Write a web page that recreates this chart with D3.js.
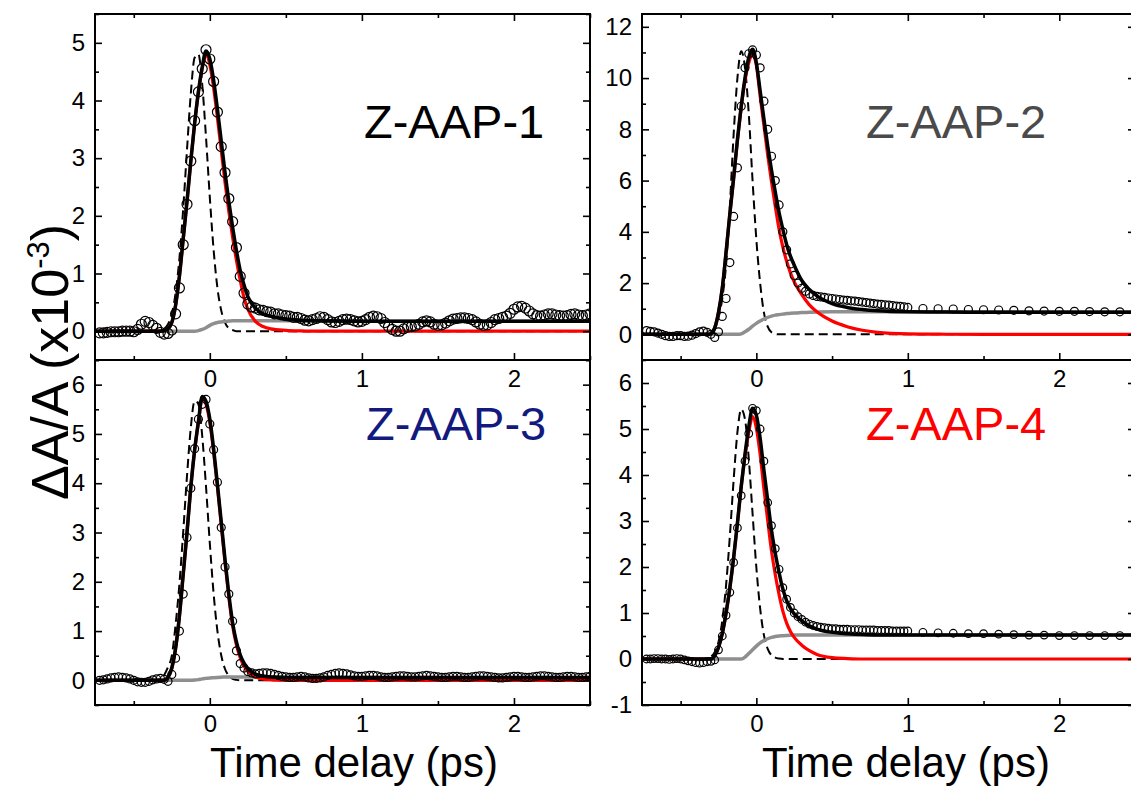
<!DOCTYPE html>
<html><head><meta charset="utf-8">
<script src="https://cdn.jsdelivr.net/npm/d3@7"></script>
<style>
html,body{margin:0;padding:0;background:#fff;}
svg{display:block;font-family:"Liberation Sans",Arial,sans-serif;}
</style></head><body>
<svg id="chart" width="1131" height="787"></svg>
<script>
// ---------- shared time axes (ps) ----------
const TIME_MAIN = [-0.725,-0.7,-0.675,-0.65,-0.625,-0.6,-0.575,-0.55,-0.525,-0.5,
 -0.475,-0.45,-0.425,-0.4,-0.375,-0.35,-0.325,-0.3,-0.275,-0.25,
 -0.225,-0.2,-0.175,-0.15,-0.125,-0.1,-0.075,-0.05,-0.025,0,
 0.025,0.05,0.075,0.1,0.125,0.15,0.175,0.2,0.225,0.25,
 0.275,0.3,0.325,0.35,0.375,0.4,0.425,0.45,0.475,0.5,
 0.525,0.55,0.575,0.6,0.625,0.65,0.675,0.7,0.725,0.75,
 0.775,0.8,0.825,0.85,0.875,0.9,0.925,0.95,0.975,1.0];
const TIME_TAIL_DENSE = [1.025,1.05,1.075,1.1,1.125,1.15,1.175,1.2,1.225,1.25,
 1.275,1.3,1.325,1.35,1.375,1.4,1.425,1.45,1.475,1.5,
 1.525,1.55,1.575,1.6,1.625,1.65,1.675,1.7,1.725,1.75,
 1.775,1.8,1.825,1.85,1.875,1.9,1.925,1.95,1.975,2.0,
 2.025,2.05,2.075,2.1,2.125,2.15,2.175,2.2,2.225,2.25,
 2.275,2.3,2.325,2.35,2.375,2.4,2.425,2.45,2.475,2.5];
const TIME_TAIL_SPARSE = [1.1,1.2,1.3,1.4,1.5,1.6,1.7,1.8,1.9,2.0,2.1,2.2,2.3,2.4,2.5];
const FIT_TIME = [-0.755,-0.5,-0.4,-0.35,-0.325,-0.3,-0.275,-0.25,-0.225,-0.2,
 -0.175,-0.15,-0.125,-0.1,-0.075,-0.05,-0.025,0,0.025,0.05,
 0.075,0.1,0.125,0.15,0.175,0.2,0.225,0.25,0.3,0.35,
 0.4,0.5,0.6,0.7,0.8,1.0,1.25,1.5,2.0,2.5];

// ---------- tick values ----------
const X_DOMAIN = [-0.755, 2.5];
const X_MAJOR = [0,1,2];
const X_MINOR = [-0.5,0.5,1.5,2.5];
const Y_MAJOR_1 = [0,1,2,3,4,5];
const Y_MINOR_1 = [-0.5,0.5,1.5,2.5,3.5,4.5,5.5];
const Y_MAJOR_2 = [0,2,4,6,8,10,12];
const Y_MINOR_2 = [-1,1,3,5,7,9,11];
const Y_MAJOR_3 = [0,1,2,3,4,5,6];
const Y_MINOR_3 = [-0.5,0.5,1.5,2.5,3.5,4.5,5.5,6.5];
const Y_MAJOR_4 = [-1,0,1,2,3,4,5,6];
const Y_MINOR_4 = [-0.5,0.5,1.5,2.5,3.5,4.5,5.5];

// ---------- Z-AAP-1 ----------
const AAP1_DATA = [-0.03,-0.03,-0.02,-0.01,-0.01,-0.01,0.0,0.0,0.0,-0.01,
 0.03,0.12,0.17,0.15,0.1,0.05,-0.02,-0.05,-0.04,0.02,
 0.3,0.75,1.5,2.2,2.95,3.65,4.15,4.55,4.88,4.72,
 4.33,3.8,3.2,2.75,2.3,1.9,1.45,0.95,0.66,0.47,
 0.42,0.4,0.37,0.36,0.34,0.33,0.3,0.3,0.28,0.27,
 0.26,0.24,0.24,0.22,0.19,0.18,0.2,0.22,0.25,0.24,
 0.2,0.16,0.15,0.17,0.2,0.21,0.2,0.18,0.16,0.17,
 0.2,0.24,0.26,0.25,0.22,0.15,0.08,0.03,0.0,0.0,
 0.04,0.07,0.08,0.09,0.12,0.16,0.18,0.16,0.12,0.1,
 0.11,0.14,0.18,0.21,0.22,0.23,0.23,0.22,0.2,0.16,
 0.12,0.1,0.11,0.15,0.2,0.22,0.24,0.26,0.31,0.38,
 0.42,0.43,0.4,0.35,0.3,0.27,0.26,0.28,0.3,0.3,
 0.28,0.27,0.26,0.27,0.29,0.3,0.28,0.27,0.28,0.3];
const AAP1_FIT = [0,0,0,0,0,0.01,0.04,0.15,0.45,0.95,
 1.6,2.25,2.95,3.6,4.15,4.58,4.86,4.72,4.35,3.85,
 3.3,2.75,2.25,1.8,1.4,1.05,0.8,0.6,0.4,0.3,
 0.26,0.21,0.19,0.18,0.175,0.17,0.17,0.17,0.17,0.17];
const AAP1_FAST = [0,0,0,0,0,0.01,0.04,0.15,0.45,0.95,
 1.6,2.25,2.95,3.6,4.14,4.55,4.8,4.62,4.22,3.7,
 3.14,2.58,2.08,1.63,1.23,0.88,0.58,0.38,0.17,0.08,
 0.04,0.015,0.005,0,0,0,0,0,0,0];
const AAP1_SLOW = [0,0,0,0,0,0,0,0,0,0,
 0,0,0,0,0.01,0.03,0.06,0.1,0.13,0.15,
 0.16,0.17,0.175,0.18,0.18,0.18,0.18,0.18,0.18,0.18,
 0.18,0.18,0.18,0.18,0.18,0.17,0.17,0.17,0.17,0.17];
const AAP1_IRF = [0,0,0,0,0.01,0.04,0.12,0.3,0.66,1.26,
 2.12,3.15,4.12,4.74,4.8,4.28,3.36,2.32,1.41,0.75,
 0.36,0.15,0.05,0.02,0,0,0,0,0,0,
 0,0,0,0,0,0,0,0,0,0];

// ---------- Z-AAP-2 ----------
const AAP2_DATA = [0.15,0.12,0.1,0.05,0.0,-0.05,-0.08,-0.08,-0.05,-0.05,
 -0.08,-0.07,-0.03,0.03,0.1,0.13,0.08,0.0,-0.12,0.1,
 0.7,1.4,2.8,4.6,6.5,8.9,10.4,10.95,11.1,10.9,
 10.4,9.1,8.0,6.95,6.0,5.05,4.0,3.3,2.75,2.3,
 2.0,1.8,1.68,1.58,1.52,1.48,1.46,1.44,1.42,1.4,
 1.38,1.36,1.34,1.33,1.31,1.3,1.28,1.26,1.24,1.22,
 1.2,1.18,1.17,1.15,1.14,1.12,1.1,1.09,1.07,1.05,
 1.01,1.0,0.99,0.97,0.96,0.95,0.94,0.92,0.91,0.9,0.9,0.89,0.88,0.88,0.87];
const AAP2_FIT = [0,0,0,0,0,0.03,0.25,0.85,1.8,3.2,
 4.7,6.1,7.6,8.9,10.0,10.8,11.12,10.6,9.5,8.4,
 7.35,6.4,5.55,4.75,4.1,3.5,3.05,2.7,2.1,1.75,
 1.5,1.2,1.05,0.97,0.92,0.88,0.87,0.86,0.86,0.86];
const AAP2_FAST = [0,0,0,0,0,0.03,0.25,0.85,1.8,3.2,
 4.7,6.1,7.55,8.85,9.9,10.6,10.9,10.5,9.3,8.15,
 7.0,5.95,5.0,4.1,3.4,2.85,2.4,2.05,1.55,1.15,
 0.88,0.52,0.3,0.16,0.08,0.02,0.005,0,0,0];
const AAP2_SLOW = [0,0,0,0,0,0,0,0,0,0,
 0,0,0,0.02,0.1,0.2,0.32,0.43,0.52,0.6,
 0.66,0.71,0.75,0.77,0.79,0.81,0.82,0.83,0.85,0.86,
 0.87,0.88,0.88,0.88,0.88,0.88,0.88,0.88,0.88,0.88];
const AAP2_IRF = [0,0,0,0.01,0.03,0.07,0.23,0.65,1.4,2.7,
 5.0,7.8,10.0,11.05,10.4,8.6,6.0,3.7,2.0,0.85,
 0.3,0.08,0.02,0,0,0,0,0,0,0,
 0,0,0,0,0,0,0,0,0,0];

// ---------- Z-AAP-3 ----------
const AAP3_DATA = [0.0,0.01,0.03,0.05,0.06,0.07,0.06,0.05,0.03,0.0,
 -0.03,-0.04,-0.04,-0.02,0.01,0.03,0.04,0.02,-0.02,0.12,
 0.45,1.0,1.75,2.9,3.9,4.7,5.3,5.6,5.7,5.2,
 4.68,4.02,3.1,2.3,1.75,1.2,0.6,0.34,0.25,0.18,
 0.15,0.13,0.14,0.15,0.15,0.14,0.12,0.1,0.08,0.07,
 0.06,0.06,0.07,0.08,0.07,0.05,0.04,0.04,0.05,0.07,
 0.1,0.12,0.14,0.15,0.14,0.13,0.11,0.09,0.08,0.08,
 0.09,0.1,0.1,0.09,0.07,0.06,0.06,0.07,0.08,0.09,
 0.09,0.08,0.07,0.07,0.08,0.09,0.1,0.09,0.08,0.07,
 0.06,0.06,0.07,0.08,0.08,0.07,0.06,0.06,0.07,0.08,
 0.09,0.09,0.08,0.07,0.06,0.05,0.05,0.06,0.07,0.08,
 0.08,0.07,0.06,0.06,0.07,0.08,0.09,0.09,0.08,0.07,
 0.06,0.06,0.07,0.08,0.08,0.07,0.06,0.06,0.07,0.08];
const AAP3_FIT = [0,0,0,0,0,0,0.06,0.25,0.65,1.3,
 2.15,3.0,3.92,4.67,5.25,5.76,5.66,5.3,4.7,3.98,
 3.22,2.45,1.75,1.17,0.78,0.52,0.35,0.24,0.13,0.09,
 0.07,0.06,0.06,0.06,0.06,0.06,0.06,0.06,0.06,0.06];
const AAP3_FAST = [0,0,0,0,0,0,0.06,0.25,0.65,1.3,
 2.15,3.0,3.92,4.66,5.23,5.72,5.6,5.24,4.64,3.92,
 3.16,2.39,1.69,1.11,0.72,0.46,0.29,0.18,0.07,0.03,
 0.01,0,0,0,0,0,0,0,0,0];
const AAP3_SLOW = [0,0,0,0,0,0,0,0,0,0,
 0,0,0,0.005,0.015,0.03,0.04,0.05,0.055,0.06,
 0.065,0.07,0.07,0.07,0.07,0.07,0.07,0.07,0.07,0.07,
 0.07,0.065,0.065,0.065,0.06,0.06,0.06,0.06,0.06,0.06];
const AAP3_IRF = [0,0,0,0.01,0.04,0.11,0.27,0.5,1.13,1.95,
 3.01,4.15,5.13,5.67,5.61,4.96,3.93,2.78,1.76,1.0,
 0.51,0.23,0.09,0.03,0.01,0,0,0,0,0,
 0,0,0,0,0,0,0,0,0,0];

// ---------- Z-AAP-4 ----------
const AAP4_DATA = [0.0,0.0,0.01,0.01,0.0,0.0,-0.01,0.0,0.01,0.0,
 -0.02,-0.04,-0.06,-0.08,-0.09,-0.08,-0.06,-0.05,-0.02,0.2,
 0.5,0.95,1.45,2.1,2.85,3.55,4.3,4.9,5.45,5.4,
 5.0,4.3,3.4,2.9,2.4,1.95,1.55,1.3,1.12,1.0,
 0.92,0.86,0.8,0.76,0.73,0.71,0.69,0.68,0.67,0.66,
 0.66,0.65,0.65,0.65,0.64,0.64,0.64,0.63,0.63,0.63,
 0.63,0.62,0.62,0.62,0.62,0.61,0.61,0.61,0.61,0.61,
 0.58,0.57,0.56,0.55,0.55,0.54,0.53,0.52,0.52,0.51,0.51,0.51,0.51,0.51,0.51];
const AAP4_FIT = [0,0,0,0,0,0,0.07,0.25,0.55,1.0,
 1.55,2.2,2.95,3.75,4.45,5.05,5.45,5.3,4.8,4.1,
 3.45,2.8,2.3,1.88,1.52,1.27,1.1,0.98,0.83,0.72,
 0.65,0.58,0.55,0.53,0.52,0.52,0.52,0.52,0.52,0.52];
const AAP4_FAST = [0,0,0,0,0,0,0.07,0.25,0.55,1.0,
 1.55,2.2,2.95,3.75,4.41,4.93,5.27,5.02,4.45,3.7,
 3.01,2.35,1.83,1.4,1.04,0.78,0.6,0.47,0.3,0.18,
 0.1,0.03,0.01,0,0,0,0,0,0,0];
const AAP4_SLOW = [0,0,0,0,0,0,0,0,0,0,
 0,0,0,0,0.04,0.12,0.2,0.28,0.35,0.4,
 0.44,0.47,0.49,0.5,0.505,0.51,0.515,0.52,0.52,0.52,
 0.52,0.52,0.52,0.52,0.52,0.52,0.52,0.52,0.52,0.52];
const AAP4_IRF = [0,0,0,0,0.01,0.05,0.15,0.37,0.83,1.6,
 2.67,3.89,4.93,5.43,5.21,4.35,3.16,1.99,1.1,0.52,
 0.22,0.08,0.03,0.01,0,0,0,0,0,0,
 0,0,0,0,0,0,0,0,0,0];

// ---------- layout ----------
const panels = [
 {title:"Z-AAP-1", color:"#000000", left:95, right:590, top:14, bottom:360, yDom:[-0.5,5.5],
  yMajor:Y_MAJOR_1, yMinor:Y_MINOR_1, time:TIME_MAIN.concat(TIME_TAIL_DENSE),
  data:AAP1_DATA, fit:AAP1_FIT, fast:AAP1_FAST, slow:AAP1_SLOW, irf:AAP1_IRF, r:5, topTicks:true, tx:364, ty:138},
 {title:"Z-AAP-2", color:"#4a4a4a", left:642, right:1135, top:14, bottom:360, yDom:[-1,12.5],
  yMajor:Y_MAJOR_2, yMinor:Y_MINOR_2, time:TIME_MAIN.concat(TIME_TAIL_SPARSE),
  data:AAP2_DATA, fit:AAP2_FIT, fast:AAP2_FAST, slow:AAP2_SLOW, irf:AAP2_IRF, r:4, topTicks:true, tx:866, ty:138},
 {title:"Z-AAP-3", color:"#121a80", left:95, right:590, top:360, bottom:705, yDom:[-0.5,6.5],
  yMajor:Y_MAJOR_3, yMinor:Y_MINOR_3, time:TIME_MAIN.concat(TIME_TAIL_DENSE),
  data:AAP3_DATA, fit:AAP3_FIT, fast:AAP3_FAST, slow:AAP3_SLOW, irf:AAP3_IRF, r:4, topTicks:false, tx:366, ty:440},
 {title:"Z-AAP-4", color:"#ff0000", left:642, right:1135, top:360, bottom:705, yDom:[-1,6.5],
  yMajor:Y_MAJOR_4, yMinor:Y_MINOR_4, time:TIME_MAIN.concat(TIME_TAIL_SPARSE),
  data:AAP4_DATA, fit:AAP4_FIT, fast:AAP4_FAST, slow:AAP4_SLOW, irf:AAP4_IRF, r:3.8, topTicks:false, tx:866, ty:440}
];

const svg = d3.select("#chart");
const defs = svg.append("defs");
const FONT = '"Liberation Sans", Arial, sans-serif';

function styleAxis(sel){
  sel.select(".domain").remove();
  sel.selectAll(".tick line").attr("stroke","#000").attr("stroke-width",1.6);
  sel.selectAll(".tick text").attr("fill","#000");
  sel.attr("font-size",24).attr("font-family",FONT);
}

panels.forEach((p,i)=>{
  const x = d3.scaleLinear().domain(X_DOMAIN).range([p.left,p.right]);
  const y = d3.scaleLinear().domain(p.yDom).range([p.bottom,p.top]);
  const g = svg.append("g");
  defs.append("clipPath").attr("id","clip"+i).append("rect")
    .attr("x",p.left).attr("y",p.top).attr("width",p.right-p.left).attr("height",p.bottom-p.top);
  const cg = g.append("g").attr("clip-path",`url(#clip${i})`);
  const line = d3.line().x(d=>x(d[0])).y(d=>y(d[1])).curve(d3.curveMonotoneX);
  const pairs = arr => FIT_TIME.map((t,k)=>[t,arr[k]]);

  cg.append("path").datum(pairs(p.irf)).attr("d",line).attr("fill","none")
    .attr("stroke","#000").attr("stroke-width",2).attr("stroke-dasharray","9,5");
  cg.append("path").datum(pairs(p.slow)).attr("d",line).attr("fill","none")
    .attr("stroke","#8f8f8f").attr("stroke-width",3.5);
  cg.append("path").datum(pairs(p.fast)).attr("d",line).attr("fill","none")
    .attr("stroke","#ff0000").attr("stroke-width",3.2);
  cg.append("path").datum(pairs(p.fit)).attr("d",line).attr("fill","none")
    .attr("stroke","#000").attr("stroke-width",3.5);
  cg.selectAll("circle").data(p.time.map((t,k)=>[t,p.data[k]])).join("circle")
    .attr("cx",d=>x(d[0])).attr("cy",d=>y(d[1])).attr("r",p.r)
    .attr("fill","none").attr("stroke","#000").attr("stroke-width",1.2);

  g.append("g").attr("transform",`translate(${p.left},0)`)
    .call(d3.axisLeft(y).tickValues(p.yMinor).tickSizeInner(-4).tickSizeOuter(0).tickFormat(""))
    .call(styleAxis);
  g.append("g").attr("transform",`translate(${p.left},0)`)
    .call(d3.axisLeft(y).tickValues(p.yMajor).tickSizeInner(-7).tickSizeOuter(0).tickPadding(10).tickFormat(d=>String(d)))
    .call(styleAxis);
  g.append("g").attr("transform",`translate(${p.right},0)`)
    .call(d3.axisRight(y).tickValues(p.yMinor).tickSizeInner(-4).tickSizeOuter(0).tickFormat(""))
    .call(styleAxis);
  g.append("g").attr("transform",`translate(${p.right},0)`)
    .call(d3.axisRight(y).tickValues(p.yMajor).tickSizeInner(-7).tickSizeOuter(0).tickFormat(""))
    .call(styleAxis);
  g.append("g").attr("transform",`translate(0,${p.bottom})`)
    .call(d3.axisBottom(x).tickValues(X_MINOR).tickSizeInner(-4).tickSizeOuter(0).tickFormat(""))
    .call(styleAxis);
  g.append("g").attr("transform",`translate(0,${p.bottom})`)
    .call(d3.axisBottom(x).tickValues(X_MAJOR).tickSizeInner(-7).tickSizeOuter(0).tickPadding(10).tickFormat(d=>String(d)))
    .call(styleAxis);
  if(p.topTicks){
    g.append("g").attr("transform",`translate(0,${p.top})`)
      .call(d3.axisTop(x).tickValues(X_MINOR).tickSizeInner(-4).tickSizeOuter(0).tickFormat(""))
      .call(styleAxis);
    g.append("g").attr("transform",`translate(0,${p.top})`)
      .call(d3.axisTop(x).tickValues(X_MAJOR).tickSizeInner(-7).tickSizeOuter(0).tickFormat(""))
      .call(styleAxis);
  }
  g.append("rect").attr("x",p.left).attr("y",p.top).attr("width",p.right-p.left).attr("height",p.bottom-p.top)
    .attr("fill","none").attr("stroke","#000").attr("stroke-width",2);

  g.append("text").attr("x",p.tx).attr("y",p.ty).attr("fill",p.color)
    .attr("font-family",FONT).attr("font-size",47).text(p.title);
});

// axis titles
[354, 906].forEach(cx=>{
  svg.append("text").attr("x",cx).attr("y",777).attr("text-anchor","middle")
    .attr("font-family",FONT).attr("font-size",42).attr("fill","#000").text("Time delay (ps)");
});
const yl = svg.append("text").attr("transform","translate(68,362) rotate(-90)")
  .attr("text-anchor","middle").attr("font-family",FONT).attr("font-size",52).attr("fill","#000");
yl.append("tspan").text("\u0394A/A (x10");
yl.append("tspan").attr("dy",-19).attr("font-size",31).text("-3");
yl.append("tspan").attr("dy",19).text(")");
</script></body></html>
